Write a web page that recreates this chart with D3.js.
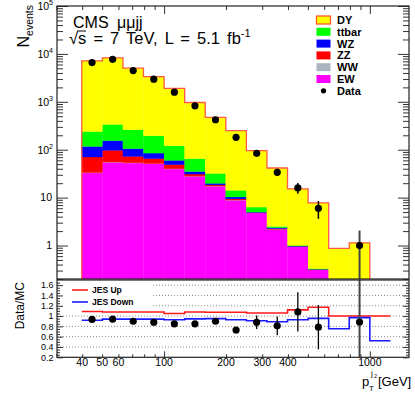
<!DOCTYPE html>
<html>
<head>
<meta charset="utf-8">
<script src="https://cdn.jsdelivr.net/npm/d3@7"></script>
<style>
	body {margin: 0; background: #fff;}
	text {font-family: "Liberation Sans", Arial, sans-serif; fill: #000;}
</style>
</head>
<body>
<div id="vis"></div>
<script>
// data
const BIN_EDGES = [39.8, 50.1, 63.1, 79.4, 100, 125.9, 158.5, 199.5, 251.2, 316.2, 398.1, 501.2, 631.0, 794.3, 1000, 1258.9];
const EW    = [32.7, 54.4, 52.7, 51, 39.5, 27.8, 17.2, 8.8, 4.8, 2.15, 0.94, 0.31, 0.1, 0.05, 0];
const WW    = [0.6, 0.8, 0.7, 0.6, 0.5, 0.3, 0.2, 0.1, 0.05, 0.03, 0.01, 0, 0, 0, 0];
const ZZ    = [37.2, 41.8, 19.2, 13.4, 8.7, 2.9, 1.0, 0.5, 0.05, 0.07, 0.01, 0.005, 0, 0, 0];
const WZ    = [46.5, 57, 32.4, 20, 11.3, 4, 1.5, 0.9, 0.1, 0.1, 0.02, 0.005, 0, 0, 0];
const TTBAR = [123, 183, 156, 110, 61, 30, 12.1, 3.9, 1.35, 0.15, 0.03, 0.01, 0, 0, 0];
const DY    = [6910, 7923, 4769, 3175, 1779, 903, 440, 235, 89, 39, 14.2, 7.4, 0.77, 1.09, 0];

const DATA        = [6600, 7700, 4490, 2970, 1590, 826, 422, 181, 84, 33.7, 15.9, 6.0, null, 1.0, null];
const DATA_ERR_UP = [81, 88, 67, 55, 40, 29, 20, 13, 9.5, 6.3, 4.3, 2.5, null, 1.05, null];
const DATA_ERR_DN = [81, 88, 67, 55, 40, 29, 20, 13, 9.5, 5.5, 3.8, 2.4, null, 1.0, null];

const RATIO     = [0.935, 0.94, 0.90, 0.88, 0.85, 0.85, 0.90, 0.73, 0.88, 0.81, 1.08, 0.785, null, 0.885, null];
const RATIO_ERR = [0.012, 0.012, 0.015, 0.018, 0.022, 0.03, 0.045, 0.055, 0.13, 0.18, 0.38, 0.43, null, 1.6, null];
const JES_UP    = [1.09, 1.08, 1.08, 1.08, 1.05, 1.08, 1.075, 1.075, 1.06, 1.06, 1.12, 1.17, 1.0, 1.0, 1.0];
const JES_DOWN  = [0.92, 0.94, 0.94, 0.94, 0.93, 0.945, 0.95, 0.93, 0.91, 0.89, 0.93, 0.955, 0.755, 0.97, 0.52];

const X_TICK_LABELS = [40, 50, 60, 100, 200, 300, 400, 1000];
const Y_TICK_VALUES = [1, 10, 100, 1000, 10000, 100000];
const RATIO_TICK_LABELS = [0.2, 0.4, 0.6, 0.8, 1, 1.2, 1.4, 1.6];

const LEGEND = [
	{key: "DY", color: "#ffff00"},
	{key: "ttbar", color: "#00ff00"},
	{key: "WZ", color: "#0000ff"},
	{key: "ZZ", color: "#ff0000"},
	{key: "WW", color: "#a9b6c2"},
	{key: "EW", color: "#ff00ff"}
];

// frame constants
const LEFT = 57, RIGHT = 409;
const TOP_Y0 = 6, TOP_Y1 = 279;
const RAT_Y0 = 280, RAT_Y1 = 357.3;

const svg = d3.select("#vis")
	.append("svg")
		.attr("width", 415)
		.attr("height", 399);

const X = d3.scaleLog().domain([30, 1550]).range([56.5, RIGHT]);
const Y = d3.scaleLog().domain([0.2, 1e5]).range([TOP_Y1, TOP_Y0]);
const R = d3.scaleLinear().domain([0.2, 1.7]).range([RAT_Y1, RAT_Y0]);

// clip paths
const defs = svg.append("defs");
defs.append("clipPath").attr("id", "clipTop")
	.append("rect").attr("x", LEFT).attr("y", TOP_Y0)
	.attr("width", RIGHT - LEFT).attr("height", TOP_Y1 - TOP_Y0);
defs.append("clipPath").attr("id", "clipRat")
	.append("rect").attr("x", LEFT).attr("y", RAT_Y0)
	.attr("width", RIGHT - LEFT).attr("height", RAT_Y1 - RAT_Y0);

// stacked histogram
const rows = DY.map((d, i) => ({EW: EW[i], WW: WW[i], ZZ: ZZ[i], WZ: WZ[i], ttbar: TTBAR[i], DY: DY[i]}));
const stack = d3.stack().keys(["EW", "WW", "ZZ", "WZ", "ttbar", "DY"])(rows);
const colorOf = {};
LEGEND.forEach((l) => {colorOf[l.key] = l.color});

const gTop = svg.append("g").attr("clip-path", "url(#clipTop)");
const floor = (v) => Math.max(v, 0.01);

stack.forEach((s) => {
	gTop.selectAll(null)
		.data(s.filter((d) => d[1] - d[0] > 0).map((d) => ({lo: d[0], hi: d[1], i: s.indexOf(d)})))
		.enter()
		.append("rect")
			.attr("x", (d) => X(BIN_EDGES[d.i]))
			.attr("width", (d) => X(BIN_EDGES[d.i + 1]) - X(BIN_EDGES[d.i]))
			.attr("y", (d) => Y(floor(d.hi)))
			.attr("height", (d) => Y(floor(d.lo)) - Y(floor(d.hi)))
			.style("fill", colorOf[s.key])
			.style("stroke", colorOf[s.key])
			.style("stroke-width", 0.3);
});

// outline of total
const totals = rows.map((r) => r.EW + r.WW + r.ZZ + r.WZ + r.ttbar + r.DY);
let outline = "";
let lastI = -1;
totals.forEach((t, i) => {
	if (t <= 0) return;
	const x0 = X(BIN_EDGES[i]), x1 = X(BIN_EDGES[i + 1]);
	if (lastI < 0) outline += "M" + x0 + "," + Y(0.01);
	outline += "L" + x0 + "," + Y(floor(t)) + "L" + x1 + "," + Y(floor(t));
	lastI = i;
});
outline += "L" + X(BIN_EDGES[lastI + 1]) + "," + Y(0.01);
gTop.append("path")
	.attr("d", outline)
	.style("fill", "none")
	.style("stroke", "#ff5a4a")
	.style("stroke-width", 1.3);

// data points
const pts = DATA.map((d, i) => ({v: d, up: DATA_ERR_UP[i], dn: DATA_ERR_DN[i], i: i})).filter((d) => d.v != null);
const binCenter = (i) => Math.sqrt(BIN_EDGES[i] * BIN_EDGES[i + 1]);

gTop.selectAll("errTop")
	.data(pts)
	.enter()
	.append("line")
		.attr("x1", (d) => X(binCenter(d.i)))
		.attr("x2", (d) => X(binCenter(d.i)))
		.attr("y1", (d) => Y(d.v + d.up))
		.attr("y2", (d) => Y(floor(d.v - d.dn)))
		.style("stroke", (d) => d.i == 13 ? "#444" : "#000")
		.style("stroke-width", (d) => d.i == 13 ? 2 : 1.5);

gTop.selectAll("dataTop")
	.data(pts)
	.enter()
	.append("circle")
		.attr("cx", (d) => X(binCenter(d.i)))
		.attr("cy", (d) => Y(d.v))
		.attr("r", 3.6)
		.style("fill", "#000");

// top panel frame and ticks
function tickGroup(axis, transform) {
	const g = svg.append("g").attr("transform", transform).call(axis);
	g.select(".domain").remove();
	g.selectAll("text").remove();
	g.selectAll("line").style("stroke", "#333").style("stroke-width", 1);
	return g;
}

const yMinor = [];
for (let e = 0.1; e < 1e5; e *= 10) {
	for (let k = 2; k <= 9; k++) {
		if (e * k >= 0.2) yMinor.push(e * k);
	}
}
tickGroup(d3.axisRight(Y).tickValues(Y_TICK_VALUES).tickSize(11), "translate(" + LEFT + ",0)");
tickGroup(d3.axisRight(Y).tickValues(yMinor).tickSize(6), "translate(" + LEFT + ",0)");
tickGroup(d3.axisLeft(Y).tickValues(Y_TICK_VALUES).tickSize(11), "translate(" + RIGHT + ",0)");
tickGroup(d3.axisLeft(Y).tickValues(yMinor).tickSize(6), "translate(" + RIGHT + ",0)");

const xMinor = [];
[10, 100, 1000].forEach((e) => {
	for (let k = 1; k <= 9; k++) {
		const v = e * k;
		if (v >= 30 && v <= 1550 && k != 1) xMinor.push(v);
	}
});
tickGroup(d3.axisBottom(X).tickValues([100, 1000]).tickSize(8), "translate(0," + TOP_Y0 + ")");
tickGroup(d3.axisBottom(X).tickValues(xMinor).tickSize(4), "translate(0," + TOP_Y0 + ")");

svg.append("rect")
	.attr("x", LEFT).attr("y", TOP_Y0)
	.attr("width", RIGHT - LEFT).attr("height", TOP_Y1 - TOP_Y0)
	.style("fill", "none").style("stroke", "#222").style("stroke-width", 1.2);

// y tick labels top panel
const yLab = svg.append("g").style("font-size", "10.5px");
Y_TICK_VALUES.forEach((v) => {
	const exp = Math.round(Math.log10(v));
	const t = yLab.append("text")
		.attr("x", exp >= 2 ? 53 : 52)
		.attr("y", Y(v) + 3.8)
		.attr("text-anchor", "end");
	if (exp >= 2) {
		t.append("tspan").text("10");
		t.append("tspan").attr("dy", -4.5).style("font-size", "7px").text(exp);
	} else {
		t.text(v);
	}
});

// axis title top
const nTitle = svg.append("text")
	.attr("transform", "translate(29,5) rotate(-90)")
	.attr("text-anchor", "end");
nTitle.append("tspan").style("font-size", "16px").text("N");
nTitle.append("tspan").attr("dy", 3.5).style("font-size", "10.5px").text("events");

// header texts
svg.append("text").attr("x", 73).attr("y", 27.5).style("font-size", "16px").text("CMS");
svg.append("text").attr("x", 117).attr("y", 27.5).style("font-size", "16px").text("μμjj");
const lumi = svg.append("text").attr("x", 69).attr("y", 44)
	.style("font-size", "16.5px").style("word-spacing", "2.5px");
lumi.append("tspan").text("√");
lumi.append("tspan").text("s = 7 TeV, L = 5.1 fb");
lumi.append("tspan").attr("dy", -7).style("font-size", "11px").text("-1");
svg.append("line")
	.attr("x1", 77).attr("x2", 86).attr("y1", 31).attr("y2", 31)
	.style("stroke", "#000").style("stroke-width", 1);

// legend
const leg = svg.append("g").style("font-size", "11px").style("font-weight", "bold");
const LEG_Y = [20, 31.8, 43.6, 55.4, 67.2, 79, 90.8];
LEGEND.forEach((l, i) => {
	leg.append("rect")
		.attr("x", 316.5).attr("y", LEG_Y[i] - 4)
		.attr("width", 14).attr("height", 8)
		.style("fill", l.color)
		.style("stroke", l.key == "DY" ? "#ff5a2a" : "none")
		.style("stroke-width", 1.3);
	leg.append("text").attr("x", 337).attr("y", LEG_Y[i] + 4).text(l.key);
});
leg.append("circle").attr("cx", 323.5).attr("cy", LEG_Y[6]).attr("r", 2.6).style("fill", "#000");
leg.append("text").attr("x", 337).attr("y", LEG_Y[6] + 4).text("Data");

// ratio panel
const gRat = svg.append("g").attr("clip-path", "url(#clipRat)");

gRat.selectAll("grid")
	.data(RATIO_TICK_LABELS.slice(1))
	.enter()
	.append("line")
		.attr("x1", LEFT).attr("x2", RIGHT)
		.attr("y1", (d) => R(d)).attr("y2", (d) => R(d))
		.style("stroke", "#888")
		.style("stroke-width", 1)
		.style("stroke-dasharray", "1,2");

function stepPath(vals) {
	let p = "";
	vals.forEach((v, i) => {
		const x0 = X(BIN_EDGES[i]), x1 = X(BIN_EDGES[i + 1]);
		p += (i == 0 ? "M" : "L") + x0 + "," + R(v) + "L" + x1 + "," + R(v);
	});
	return p;
}
gRat.append("path").attr("d", stepPath(JES_UP))
	.style("fill", "none").style("stroke", "#ff1a1a").style("stroke-width", 1.6);
gRat.append("path").attr("d", stepPath(JES_DOWN))
	.style("fill", "none").style("stroke", "#1a1aff").style("stroke-width", 1.6);

// legend box for the ratio panel
gRat.append("rect")
	.attr("x", LEFT + 1).attr("y", RAT_Y0 + 1)
	.attr("width", 95).attr("height", 28)
	.style("fill", "#fff");
const rLeg = svg.append("g").style("font-size", "8.5px").style("font-weight", "bold");
[{t: "JES Up", c: "#ff1a1a", y: 290}, {t: "JES Down", c: "#1a1aff", y: 302}].forEach((l) => {
	rLeg.append("line").attr("x1", 72).attr("x2", 88).attr("y1", l.y).attr("y2", l.y)
		.style("stroke", l.c).style("stroke-width", 1.6);
	rLeg.append("text").attr("x", 92).attr("y", l.y + 3).text(l.t);
});

const rPts = RATIO.map((d, i) => ({v: d, e: RATIO_ERR[i], i: i})).filter((d) => d.v != null);
gRat.selectAll("errRat")
	.data(rPts)
	.enter()
	.append("line")
		.attr("x1", (d) => X(binCenter(d.i)))
		.attr("x2", (d) => X(binCenter(d.i)))
		.attr("y1", (d) => R(d.v + d.e))
		.attr("y2", (d) => R(d.v - d.e))
		.style("stroke", (d) => d.i == 13 ? "#444" : "#000")
		.style("stroke-width", (d) => d.i == 13 ? 2 : 1.3);
gRat.selectAll("dataRat")
	.data(rPts)
	.enter()
	.append("circle")
		.attr("cx", (d) => X(binCenter(d.i)))
		.attr("cy", (d) => R(d.v))
		.attr("r", 3.6)
		.style("fill", "#000");

// ratio ticks
const rMinor = d3.range(0.25, 1.7, 0.05).filter((v) => Math.abs(v * 5 - Math.round(v * 5)) > 0.01);
tickGroup(d3.axisRight(R).tickValues(RATIO_TICK_LABELS).tickSize(6), "translate(" + LEFT + ",0)");
tickGroup(d3.axisRight(R).tickValues(rMinor).tickSize(3), "translate(" + LEFT + ",0)");
tickGroup(d3.axisLeft(R).tickValues(RATIO_TICK_LABELS).tickSize(6), "translate(" + RIGHT + ",0)");
tickGroup(d3.axisLeft(R).tickValues(rMinor).tickSize(3), "translate(" + RIGHT + ",0)");
tickGroup(d3.axisTop(X).tickValues([100, 1000]).tickSize(6), "translate(0," + RAT_Y1 + ")");
tickGroup(d3.axisTop(X).tickValues(xMinor).tickSize(3), "translate(0," + RAT_Y1 + ")");

svg.append("rect")
	.attr("x", LEFT).attr("y", RAT_Y0)
	.attr("width", RIGHT - LEFT).attr("height", RAT_Y1 - RAT_Y0)
	.style("fill", "none").style("stroke", "#222").style("stroke-width", 1.2);

// ratio labels
svg.append("g").style("font-size", "9px")
	.selectAll("text")
	.data(RATIO_TICK_LABELS)
	.enter()
	.append("text")
		.attr("x", 53.5)
		.attr("y", (d) => R(d) + 3.2)
		.attr("text-anchor", "end")
		.text((d) => d);

svg.append("text")
	.attr("transform", "translate(24,282) rotate(-90)")
	.attr("text-anchor", "end")
	.style("font-size", "12px")
	.text("Data/MC");

// x labels
svg.append("g").style("font-size", "10.5px")
	.selectAll("text")
	.data(X_TICK_LABELS)
	.enter()
	.append("text")
		.attr("x", (d) => X(d))
		.attr("y", 366)
		.attr("text-anchor", "middle")
		.text((d) => d);

// x title
const xt = svg.append("g").style("font-size", "13px");
xt.append("text").attr("x", 362).attr("y", 386).text("p");
xt.append("text").attr("x", 369).attr("y", 391).style("font-size", "8px").text("T");
xt.append("text").attr("x", 371).attr("y", 375.5).style("font-size", "8px").text("j");
xt.append("text").attr("x", 374).attr("y", 377.5).style("font-size", "5.5px").text("2");
xt.append("text").attr("x", 378).attr("y", 385.5).text("[GeV]");
</script>
</body>
</html>
